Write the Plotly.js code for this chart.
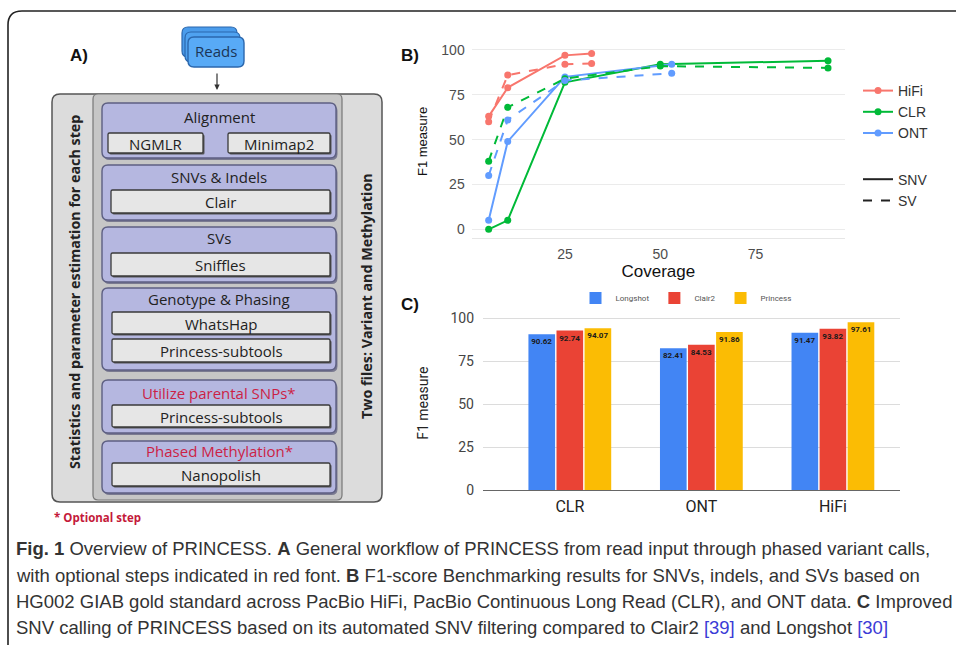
<!DOCTYPE html>
<html>
<head>
<meta charset="utf-8">
<script src="https://cdn.plot.ly/plotly-3.0.1.min.js"></script>
<style>html,body{margin:0;padding:0;background:#fff;}#chart{width:956px;height:645px;}</style>
</head>
<body>
<div id="chart"></div>
<script>
// ---------- Panel B data (F1 vs coverage) ----------
const coverageHiFi = [5, 10, 25, 32];
const hifiSNV = [63, 79, 97, 98];
const hifiSV = [60, 86, 92, 92.5];
const coverageCLR = [5, 10, 25, 50, 94];
const clrSNV = [0, 5, 82, 92, 94];
const clrSV = [38, 68, 84, 91, 90];
const coverageONT = [5, 10, 25, 53];
const ontSNV = [5, 49, 85, 92];
const ontSV = [30, 61, 83, 87];

// ---------- Panel C data (SNV F1 by tool) ----------
const platforms = ['CLR', 'ONT', 'HiFi'];
const longshot = [90.62, 82.41, 91.47];
const clair2 = [92.74, 84.53, 93.82];
const princess = [94.07, 91.86, 97.61];

// ---------- Panel A labels ----------
const stepTitles = ['Alignment', 'SNVs & Indels', 'SVs', 'Genotype & Phasing', 'Utilize parental SNPs*', 'Phased Methylation*'];
const stepOptional = [false, false, false, false, true, true];
const stepTools = [['NGMLR', 'Minimap2'], ['Clair'], ['Sniffles'], ['WhatsHap', 'Princess-subtools'], ['Princess-subtools'], ['Nanopolish']];

const captionLines = [
  '<b>Fig. 1</b> Overview of PRINCESS. <b>A</b> General workflow of PRINCESS from read input through phased variant calls,',
  'with optional steps indicated in red font. <b>B</b> F1-score Benchmarking results for SNVs, indels, and SVs based on',
  'HG002 GIAB gold standard across PacBio HiFi, PacBio Continuous Long Read (CLR), and ONT data. <b>C</b> Improved',
  'SNV calling of PRINCESS based on its automated SNV filtering compared to Clair2 <span style="color:#3b3bd6">[39]</span> and Longshot <span style="color:#3b3bd6">[30]</span>'
];

// ---------- helpers (pixel -> paper) ----------
const W = 956, H = 645;
const X = p => p / W;
const Y = p => 1 - p / H;
function rrect(x0, y0, x1, y1, r) {
  return `M ${X(x0 + r)},${Y(y0)} L ${X(x1 - r)},${Y(y0)} Q ${X(x1)},${Y(y0)} ${X(x1)},${Y(y0 + r)} ` +
    `L ${X(x1)},${Y(y1 - r)} Q ${X(x1)},${Y(y1)} ${X(x1 - r)},${Y(y1)} L ${X(x0 + r)},${Y(y1)} ` +
    `Q ${X(x0)},${Y(y1)} ${X(x0)},${Y(y1 - r)} L ${X(x0)},${Y(y0 + r)} Q ${X(x0)},${Y(y0)} ${X(x0 + r)},${Y(y0)} Z`;
}
const shapes = [];
const annotations = [];
function box(x0, y0, x1, y1, r, fill, line, lw) {
  shapes.push({type: 'path', xref: 'paper', yref: 'paper', path: rrect(x0, y0, x1, y1, r),
    fillcolor: fill, line: {color: line, width: lw}, layer: 'above'});
}
function label(x, y, text, size, color, opts) {
  annotations.push(Object.assign({xref: 'paper', yref: 'paper', x: X(x), y: Y(y), text: text, showarrow: false,
    xanchor: 'center', yanchor: 'middle', font: {family: 'Open Sans, Noto Sans, sans-serif', size: size, color: color}}, opts || {}));
}

// outer figure border (rounded, open to right and bottom)
shapes.push({type: 'path', xref: 'paper', yref: 'paper',
  path: `M ${X(8)},${Y(645)} L ${X(8)},${Y(25)} Q ${X(8)},${Y(11)} ${X(22)},${Y(11)} L ${X(956)},${Y(11)}`,
  line: {color: '#222', width: 1.6}, layer: 'above'});

// ---------- Panel A diagram ----------
box(182, 27, 237, 57, 6, '#4b9ceb', '#2b67ad', 1.2);
box(185, 32, 240, 62, 6, '#4fa2f0', '#2b67ad', 1.2);
box(188, 37, 244, 67, 6, '#58aaf6', '#2b67ad', 1.4);
label(216, 51, 'Reads', 15, '#1b3557');
annotations.push({xref: 'paper', yref: 'paper', x: X(217), y: Y(90), ax: 0, ay: -18, text: '', showarrow: true,
  arrowhead: 2, arrowsize: 0.9, arrowwidth: 1.2, arrowcolor: '#333'});

box(52, 94, 382, 502, 8, '#dcdcdc', '#555', 1.5);
box(93, 94, 342, 500, 5, '#c6c6c6', '#777', 1.2);

const stepBoxes = [[103, 158, 117], [165, 220, 177], [227, 282, 238], [288, 370, 299], [380, 433, 393], [441, 493, 451]];
const toolBoxes = [
  [[108, 203, 133, 153], [228, 330, 133, 153]],
  [[111, 330, 190, 213]],
  [[111, 330, 253, 276]],
  [[112, 330, 312, 334], [112, 330, 339, 362]],
  [[112, 330, 405, 427]],
  [[112, 330, 463, 486]]
];
stepTitles.forEach((t, i) => {
  const [y0, y1, ty] = stepBoxes[i];
  box(103.5, y0 + 2, 337.5, y1 + 2, 6, '#7a7a90', '#7a7a90', 0);
  box(102, y0, 336, y1, 6, '#b5b7e0', '#5d5f82', 1.4);
  label(219, ty, t, 15, stepOptional[i] ? '#cc1f45' : '#222');
  stepTools[i].forEach((tool, j) => {
    const [x0, x1, by0, by1] = toolBoxes[i][j];
    box(x0 + 1.5, by0 + 1.5, x1 + 1.5, by1 + 1.5, 1.5, '#555', '#555', 0);
    box(x0, by0, x1, by1, 1.5, '#e6e6e6', '#3a3a3a', 1.3);
    label((x0 + x1) / 2, (by0 + by1) / 2 + 0.5, tool, 15, '#222');
  });
});
label(74, 292, '<b>Statistics and parameter estimation for each step</b>', 14.3, '#222', {textangle: -90});
label(366, 296, '<b>Two files: Variant and Methylation</b>', 14.3, '#222', {textangle: -90});
label(52, 517, '<b>* Optional step</b>', 11.5, '#c41a3a', {xanchor: 'left'});

// panel letters
const letterFont = {family: 'Liberation Sans, Arial, sans-serif', size: 17, color: '#111'};
annotations.push({xref: 'paper', yref: 'paper', x: X(68), y: Y(55), text: '<b>A)</b>', showarrow: false, xanchor: 'left', yanchor: 'middle', font: letterFont});
annotations.push({xref: 'paper', yref: 'paper', x: X(399), y: Y(55), text: '<b>B)</b>', showarrow: false, xanchor: 'left', yanchor: 'middle', font: letterFont});
annotations.push({xref: 'paper', yref: 'paper', x: X(399), y: Y(305), text: '<b>C)</b>', showarrow: false, xanchor: 'left', yanchor: 'middle', font: letterFont});

// caption
const capY = [548, 575, 601, 627];
captionLines.forEach((t, i) => {
  annotations.push({xref: 'paper', yref: 'paper', x: X(14), y: Y(capY[i]), text: t, showarrow: false,
    xanchor: 'left', yanchor: 'middle', align: 'left',
    font: {family: 'Liberation Sans, Arial, sans-serif', size: 18.5, color: '#333'}});
});

// ---------- traces ----------
const cH = '#F8766D', cC = '#00BA38', cO = '#619CFF';
function lineTrace(x, y, color, dash, name, show) {
  return {x: x, y: y, type: 'scatter', mode: 'lines+markers', name: name, showlegend: show,
    legendgroup: 'tech', legend: 'legend', xaxis: 'x', yaxis: 'y',
    line: {color: color, width: 2, dash: dash}, marker: {color: color, size: 7}};
}
const traces = [
  lineTrace(coverageHiFi, hifiSNV, cH, 'solid', 'HiFi', true),
  lineTrace(coverageCLR, clrSNV, cC, 'solid', 'CLR', true),
  lineTrace(coverageONT, ontSNV, cO, 'solid', 'ONT', true),
  lineTrace(coverageHiFi, hifiSV, cH, 'dash', 'HiFi SV', false),
  lineTrace(coverageCLR, clrSV, cC, 'dash', 'CLR SV', false),
  lineTrace(coverageONT, ontSV, cO, 'dash', 'ONT SV', false),
  {x: [null], y: [null], type: 'scatter', mode: 'lines', name: 'SNV', legendgroup: 'type', legend: 'legend',
    xaxis: 'x', yaxis: 'y', line: {color: '#222', width: 2, dash: 'solid'}},
  {x: [null], y: [null], type: 'scatter', mode: 'lines', name: 'SV', legendgroup: 'type', legend: 'legend',
    xaxis: 'x', yaxis: 'y', line: {color: '#222', width: 2, dash: 'dash'}}
];
function barTrace(y, name, color) {
  return {x: platforms, y: y, type: 'bar', name: name, legend: 'legend2', xaxis: 'x2', yaxis: 'y2',
    marker: {color: color}, texttemplate: '<b>%{y:.2f}</b>', textposition: 'inside', insidetextanchor: 'end',
    textangle: 0, constraintext: 'none', textfont: {family: 'Roboto, Arial, sans-serif', size: 8, color: '#1a1a1a'},
    hoverinfo: 'x+y'};
}
traces.push(barTrace(longshot, 'Longshot', '#4285F4'));
traces.push(barTrace(clair2, 'Clair2', '#EA4335'));
traces.push(barTrace(princess, 'Princess', '#FBBC04'));

const layout = {
  width: W, height: H,
  margin: {l: 0, r: 0, t: 0, b: 0},
  paper_bgcolor: '#fff', plot_bgcolor: 'rgba(0,0,0,0)',
  showlegend: true,
  barmode: 'group', bargap: 0.36, bargroupgap: 0.05,
  uniformtext: {mode: false},
  xaxis: {domain: [X(471.7), X(845)], range: [0.55, 98.45], tickvals: [25, 50, 75],
    showgrid: false, zeroline: false, showline: true, linecolor: '#e6e6e6', linewidth: 1,
    ticks: '', ticklabelstandoff: 3, automargin: false,
    tickfont: {family: 'Liberation Sans, Arial, sans-serif', size: 14, color: '#4d4d4d'},
    title: {text: 'Coverage', standoff: 4, font: {family: 'Liberation Sans, Arial, sans-serif', size: 17, color: '#111'}}},
  yaxis: {domain: [Y(238.1), Y(44.6)], range: [-4.9, 103], tickvals: [0, 25, 50, 75, 100],
    showgrid: true, gridcolor: '#ebebeb', gridwidth: 1, zeroline: false, ticks: '', ticklabelstandoff: 6, automargin: false,
    tickfont: {family: 'Liberation Sans, Arial, sans-serif', size: 14, color: '#4d4d4d'},
    title: {text: 'F1 measure', standoff: 10, font: {family: 'Liberation Sans, Arial, sans-serif', size: 13, color: '#111'}}},
  xaxis2: {domain: [X(483), X(900)], range: [-0.66, 2.51], anchor: 'y2', type: 'category',
    showgrid: false, zeroline: false, showline: true, linecolor: '#666', linewidth: 1, ticks: '', automargin: false,
    ticklabelstandoff: 2,
    tickfont: {family: 'Roboto, Arial, sans-serif', size: 16, color: '#222'}},
  yaxis2: {domain: [Y(490), Y(316.3)], range: [0, 101], anchor: 'x2', tickvals: [0, 25, 50, 75, 100],
    showgrid: true, gridcolor: '#dcdcdc', gridwidth: 1, zeroline: false, ticks: '', ticklabelstandoff: 8, automargin: false,
    tickfont: {family: 'Roboto, Arial, sans-serif', size: 14, color: '#444'},
    title: {text: 'F1 measure', standoff: 18, font: {family: 'Roboto, Arial, sans-serif', size: 14, color: '#222'}}},
  legend: {x: X(858), y: Y(75), xanchor: 'left', yanchor: 'top', traceorder: 'grouped', tracegroupgap: 25,
    bgcolor: 'rgba(0,0,0,0)', font: {family: 'Liberation Sans, Arial, sans-serif', size: 14, color: '#333'}},
  legend2: {orientation: 'h', x: X(686), y: Y(298), xanchor: 'center', yanchor: 'middle',
    bgcolor: 'rgba(0,0,0,0)', font: {family: 'Roboto, Arial, sans-serif', size: 8, color: '#555'}},
  shapes: shapes,
  annotations: annotations
};

Plotly.newPlot('chart', traces, layout, {displayModeBar: false});
</script>
</body>
</html>
